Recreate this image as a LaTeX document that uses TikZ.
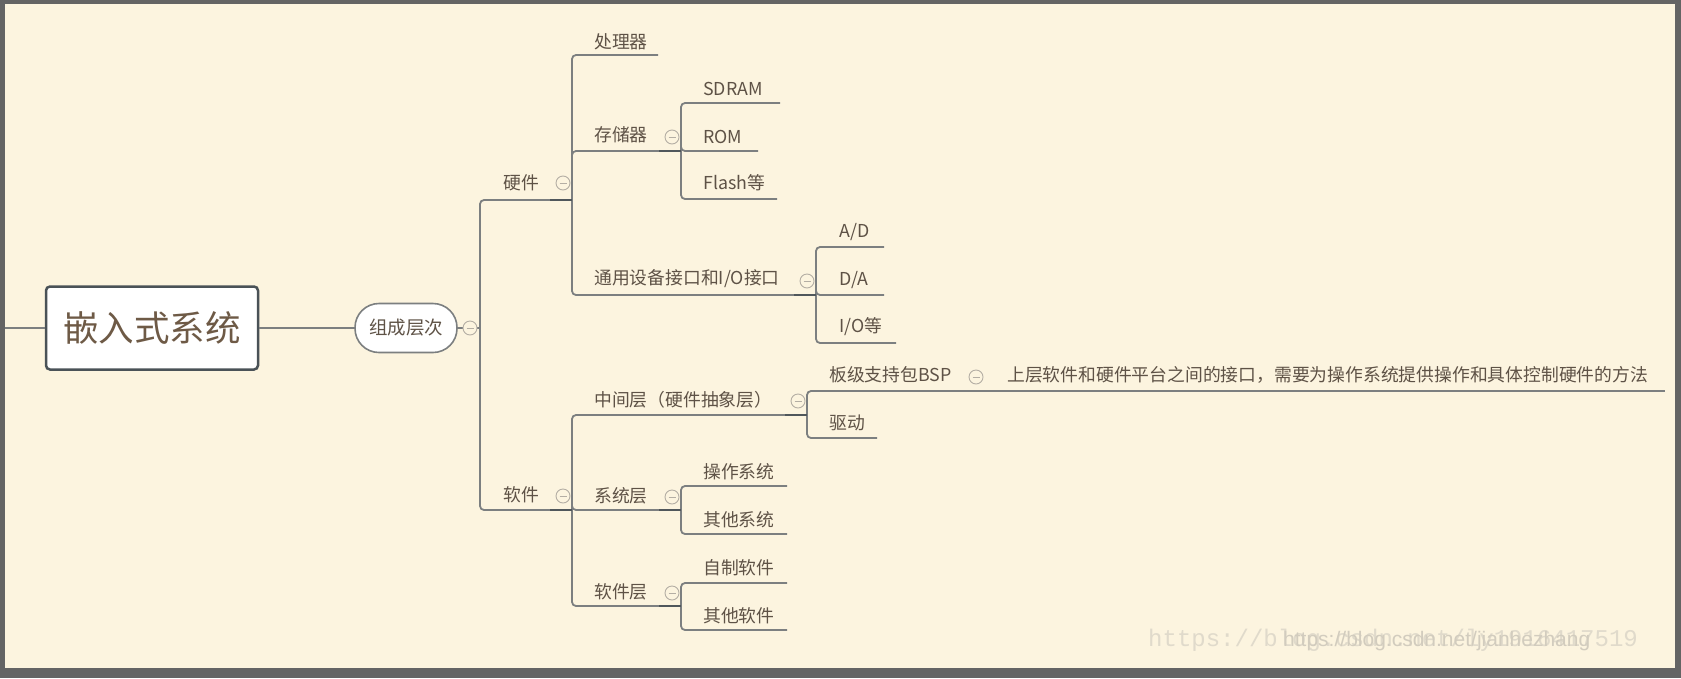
\documentclass[tikz,border=0pt]{standalone}
\usepackage{fontspec}
\setmainfont{Noto Sans CJK SC}
\newfontfamily\wmmono{Liberation Mono}
\newfontfamily\wmsans{Liberation Sans}
\usetikzlibrary{calc}
\definecolor{cream}{HTML}{FCF4DF}
\definecolor{framegray}{HTML}{646464}
\definecolor{linegray}{HTML}{7C7F80}
\definecolor{darkseg}{HTML}{50575B}
\definecolor{boxedge}{HTML}{4A5257}
\definecolor{txt}{HTML}{5E5246}
\definecolor{roottxt}{HTML}{6E5A46}
\definecolor{foldc}{HTML}{B4AEA4}
\definecolor{wmA}{HTML}{E0DACB}
\definecolor{wmB}{HTML}{D2CCBE}
\tikzset{
  conn/.style={draw=linegray, line width=1.8pt, rounded corners=4pt},
  stub/.style={draw=darkseg, line width=2.8pt},
  lbl/.style={anchor=west, inner sep=0pt, text=txt, font=\fontsize{17.8}{20}\selectfont},
  rootbox/.style={draw=boxedge, line width=2.5pt, fill=white, rounded corners=4pt,
    minimum width=212pt, minimum height=83pt, inner sep=0pt, text=roottxt,
    font=\fontsize{35.5}{40}\selectfont},
  capsule/.style={draw=linegray, line width=1.6pt, fill=white, rounded corners=24pt,
    minimum width=102pt, minimum height=49pt, inner sep=0pt, text=txt,
    font=\fontsize{18.5}{22}\selectfont},
  fold/.style={circle, draw=foldc, fill=cream, line width=0.9pt, minimum size=14pt, inner sep=0pt,
    path picture={\draw[foldc, line width=0.9pt]
      ([xshift=-3.5pt]path picture bounding box.center) -- ([xshift=3.5pt]path picture bounding box.center);}}
}
\begin{document}
\begin{tikzpicture}[x=1pt, y=-1pt]
\useasboundingbox (0,0) rectangle (1681,678);
\fill[framegray] (0,0) rectangle (1681,678);
\fill[cream] (5,4) rectangle (1675,668);

% watermark (two overlaid marks, as in the source image)
\node[anchor=west, inner sep=0pt] (wm) at (1148,640)
  {\rlap{\color{wmA}\wmmono\fontsize{24}{26}\selectfont https://blog.csdn.net/ly1916417519}%
   \hspace*{135pt}{\color{wmB}\wmsans\fontsize{21}{24}\selectfont https://blog.csdn.net/jianhezhang}};

% coordinates (junctions and line ends)
\coordinate (lft) at (5,328);
\coordinate (j0) at (480,328);
\coordinate (hw-j) at (572,200);
\coordinate (sw-j) at (572,510);
\coordinate (cpu-e) at (658,55);
\coordinate (mem-j) at (681,151);
\coordinate (io-j) at (816,295);
\coordinate (sdram-e) at (780,103);
\coordinate (rom-e) at (758,151);
\coordinate (flash-e) at (777,199);
\coordinate (ad-e) at (884,247);
\coordinate (da-e) at (884,295);
\coordinate (ioetc-e) at (896,343);
\coordinate (mid-j) at (807,415);
\coordinate (sys-j) at (681,510);
\coordinate (swl-j) at (681,606);
\coordinate (bsp-j) at (983,391);
\coordinate (desc-e) at (1665,391);
\coordinate (drv-e) at (877,438);
\coordinate (os-e) at (787,486);
\coordinate (osx-e) at (787,534);
\coordinate (self-e) at (787,583);
\coordinate (swx-e) at (787,630);

% nodes
\node[rootbox] (root) at (152,328) {嵌入式系统};
\node[capsule] (comp) at (406,328) {组成层次};

\node[lbl] (hw) at (503,183) {硬件};
\node[lbl] (sw) at (503,495) {软件};
\node[lbl] (cpu) at (594,42) {处理器};
\node[lbl] (mem) at (594,135) {存储器};
\node[lbl] (io) at (594,279) {通用设备接口和I/O接口};
\node[lbl] (sdram) at (703,89) {SDRAM};
\node[lbl] (rom) at (703,137) {ROM};
\node[lbl] (flash) at (703,183) {Flash等};
\node[lbl] (ad) at (839,232) {A/D};
\node[lbl] (da) at (839,280) {D/A};
\node[lbl] (ioetc) at (839,327) {I/O等};
\node[lbl] (mid) at (594,400) {中间层（硬件抽象层）};
\node[lbl] (bsp) at (829,375) {板级支持包BSP};
\node[lbl] (desc) at (1007,375) {上层软件和硬件平台之间的接口，需要为操作系统提供操作和具体控制硬件的方法};
\node[lbl] (drv) at (829,423) {驱动};
\node[lbl] (sys) at (594,496) {系统层};
\node[lbl] (os) at (703,472) {操作系统};
\node[lbl] (osx) at (703,520) {其他系统};
\node[lbl] (swl) at (594,592) {软件层};
\node[lbl] (self) at (703,568) {自制软件};
\node[lbl] (swx) at (703,616) {其他软件};

% connectors
\draw[conn] (lft) -- (root.west);
\draw[conn] (root.east) -- (comp.west);
\draw[conn] (comp.east) -- (j0);
\draw[conn] (j0) |- (hw-j);
\draw[conn] (j0) |- (sw-j);
\draw[conn] (hw-j) |- (cpu-e);
\draw[conn] (hw-j) |- (mem-j);
\draw[conn] (hw-j) |- (io-j);
\draw[conn] (mem-j) |- (sdram-e);
\draw[conn] (mem-j) |- (rom-e);
\draw[conn] (mem-j) |- (flash-e);
\draw[conn] (io-j) |- (ad-e);
\draw[conn] (io-j) |- (da-e);
\draw[conn] (io-j) |- (ioetc-e);
\draw[conn] (sw-j) |- (mid-j);
\draw[conn] (sw-j) |- (sys-j);
\draw[conn] (sw-j) |- (swl-j);
\draw[conn] (mid-j) |- (bsp-j);
\draw[conn] (bsp-j) -- (desc-e);
\draw[conn] (mid-j) |- (drv-e);
\draw[conn] (sys-j) |- (os-e);
\draw[conn] (sys-j) |- (osx-e);
\draw[conn] (swl-j) |- (self-e);
\draw[conn] (swl-j) |- (swx-e);

% darker stubs next to junctions
\foreach \c in {hw-j, sw-j, mem-j, io-j, mid-j, sys-j, swl-j}
  \draw[stub] ($(\c)+(-22,0)$) -- (\c);

% fold markers
\node[fold] (f0) at (470,328) {};
\node[fold] (fhw) at (563,183) {};
\node[fold] (fmem) at (672,137) {};
\node[fold] (fio) at (807,281) {};
\node[fold] (fsw) at (563,496) {};
\node[fold] (fmid) at (798,401) {};
\node[fold] (fbsp) at (976,377) {};
\node[fold] (fsys) at (672,497) {};
\node[fold] (fswl) at (672,593) {};
\end{tikzpicture}
\end{document}
